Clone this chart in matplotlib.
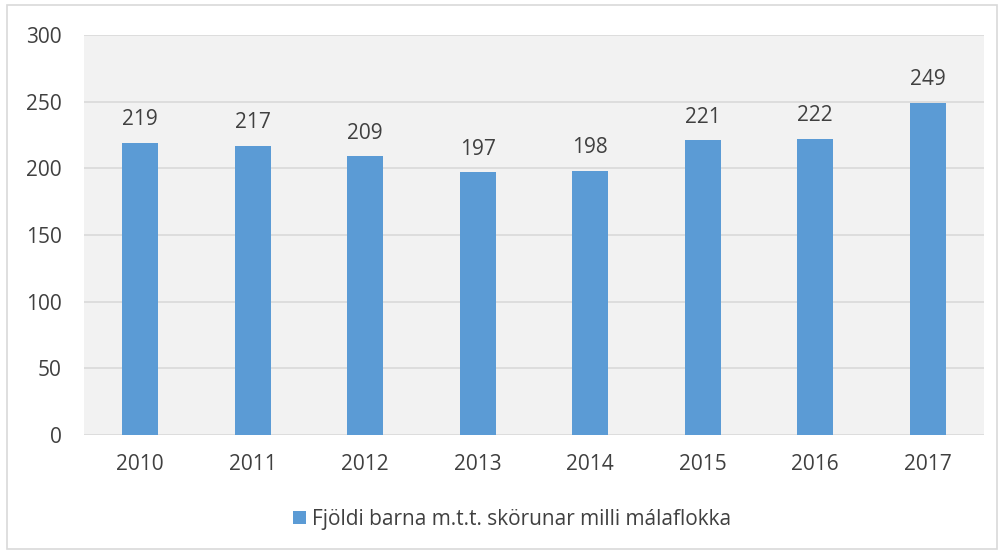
import matplotlib
matplotlib.use("Agg")
import matplotlib.pyplot as plt
from matplotlib.patches import Rectangle

years = ["2010", "2011", "2012", "2013", "2014", "2015", "2016", "2017"]
values = [219, 217, 209, 197, 198, 221, 222, 249]
series_label = "Fjöldi barna m.t.t. skörunar milli málaflokka"
yticks = [0, 50, 100, 150, 200, 250, 300]

plt.rcParams['font.family'] = ['Open Sans', 'DejaVu Sans']
txt = '#404040'
bar_color = '#5B9BD5'
fs = 15

fig = plt.figure(figsize=(10.02, 5.54), dpi=100)
fig.patches.append(Rectangle((7/1002, 1-549/554), (997-7)/1002, (549-5)/554,
                             transform=fig.transFigure, fill=False,
                             edgecolor='#D9D9D9', linewidth=1.2))
ax = fig.add_axes([84/1002, 1-435/554, 900/1002, 400/554])
ax.set_facecolor('#F2F2F2')
x = range(len(years))
bars = ax.bar(x, values, width=0.32, color=bar_color, label=series_label, zorder=3)
ax.set_xlim(-0.5, len(years)-0.5)
ax.set_ylim(0, 300)
ax.set_yticks(yticks)
ax.set_xticks(list(x))
ax.set_xticklabels(years)
ax.grid(axis='y', color='#D9D9D9', linewidth=1.2, zorder=0)
for s in ax.spines.values():
    s.set_visible(False)
ax.tick_params(axis='both', length=0, labelsize=fs, labelcolor=txt)
ax.tick_params(axis='y', pad=16)
ax.tick_params(axis='x', pad=14)
for xi, v in zip(x, values):
    ax.annotate(str(v), (xi, v), xytext=(0, 9), textcoords='offset points',
                ha='center', va='bottom', fontsize=fs, color=txt)
leg = fig.legend(loc='center', bbox_to_anchor=(512/1002, 1-519/554), frameon=False,
                 fontsize=fs, handlelength=0.6, handleheight=0.6, handletextpad=0.3,
                 labelcolor=txt)
fig.savefig('out.png', dpi=100)
